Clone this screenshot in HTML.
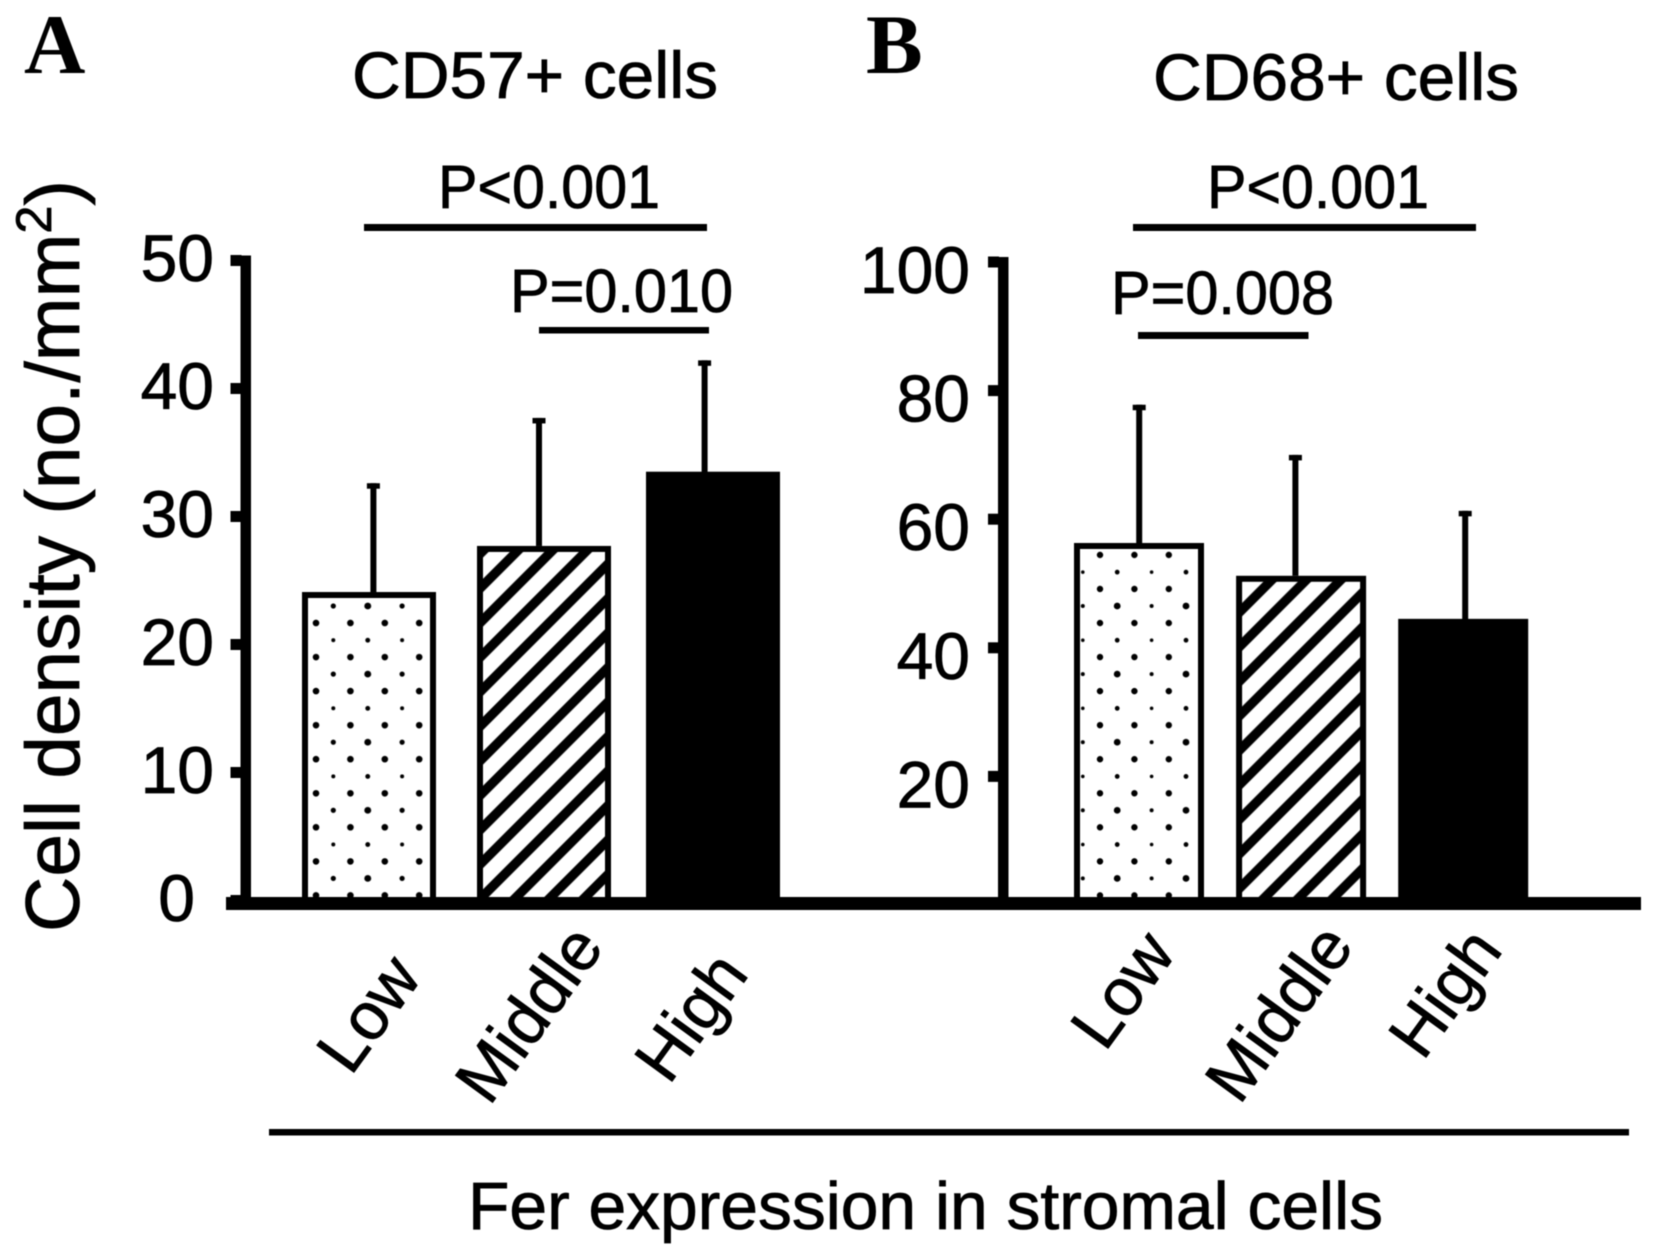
<!DOCTYPE html>
<html lang="en">
<head>
<meta charset="utf-8">
<title>Cell density by Fer expression</title>
<style>
html,body{margin:0;padding:0;background:#fff;width:1654px;height:1257px;overflow:hidden}
svg{display:block;filter:blur(0.6px)}
text{font-family:"Liberation Sans",Arial,sans-serif;fill:#000;stroke:#000;stroke-width:0.8px}
</style>
</head>
<body>
<svg id="chart" xmlns="http://www.w3.org/2000/svg" width="1654" height="1257" viewBox="0 0 1654 1257">
  <defs>
    <pattern id="dotsA" patternUnits="userSpaceOnUse" x="299" y="606" width="68.8" height="68.1">
      <circle cx="34.3" cy="0" r="2.6"/><circle cx="68.7" cy="0" r="3.4"/><circle cx="0" cy="0" r="3.4"/>
      <circle cx="17" cy="17" r="3.3"/><circle cx="51.4" cy="17" r="3.3"/>
      <circle cx="34.3" cy="34.2" r="2"/><circle cx="68.7" cy="34.2" r="2.4"/><circle cx="0" cy="34.2" r="2.4"/>
      <circle cx="17" cy="51.1" r="3.3"/><circle cx="51.4" cy="51.1" r="3.3"/>
      <circle cx="34.3" cy="68.1" r="2.6"/><circle cx="68.7" cy="68.1" r="3.4"/><circle cx="0" cy="68.1" r="3.4"/>
    </pattern>
    <pattern id="dotsB" patternUnits="userSpaceOnUse" x="1065.6" y="606" width="68.8" height="68.1">
      <circle cx="17.2" cy="0" r="2"/><circle cx="51.6" cy="0" r="3.4"/>
      <circle cx="0" cy="17" r="3.2"/><circle cx="34.4" cy="17" r="3.2"/><circle cx="68.8" cy="17" r="3.2"/>
      <circle cx="17.2" cy="34.2" r="1.8"/><circle cx="51.6" cy="34.2" r="2.4"/>
      <circle cx="0" cy="51.1" r="3.2"/><circle cx="34.4" cy="51.1" r="3.2"/><circle cx="68.8" cy="51.1" r="3.2"/>
      <circle cx="17.2" cy="68.1" r="2"/><circle cx="51.6" cy="68.1" r="3.4"/>
    </pattern>
    <pattern id="hatchA" patternUnits="userSpaceOnUse" width="40" height="24.4" patternTransform="translate(511.7 556.7) rotate(-45)">
      <rect x="0" y="0" width="40" height="4.7"/><rect x="0" y="19.7" width="40" height="4.7"/>
    </pattern>
    <pattern id="hatchB" patternUnits="userSpaceOnUse" width="40" height="24.4" patternTransform="translate(1266.7 585) rotate(-45)">
      <rect x="0" y="0" width="40" height="4.7"/><rect x="0" y="19.7" width="40" height="4.7"/>
    </pattern>
  </defs>

  <text x="24" y="73" font-size="85" font-weight="700" style="font-family:'Liberation Serif',serif;stroke-width:0">A</text>
  <text x="866" y="73" font-size="85" font-weight="700" style="font-family:'Liberation Serif',serif;stroke-width:0">B</text>

  <text x="352" y="98" font-size="66" textLength="366" lengthAdjust="spacingAndGlyphs">CD57+ cells</text>
  <text x="1153" y="100" font-size="66" textLength="366" lengthAdjust="spacingAndGlyphs">CD68+ cells</text>

  <text transform="translate(79 932) rotate(-90)" font-size="76" textLength="752" lengthAdjust="spacingAndGlyphs">Cell density (no./mm<tspan font-size="50" dy="-28">2</tspan><tspan dy="28">)</tspan></text>

  <text x="438" y="208" font-size="61" textLength="222" lengthAdjust="spacingAndGlyphs">P&lt;0.001</text>
  <rect x="364" y="224" width="343" height="7"/>
  <text x="510" y="312" font-size="61" textLength="223" lengthAdjust="spacingAndGlyphs">P=0.010</text>
  <rect x="539" y="327" width="170" height="6.5"/>
  <text x="1207" y="208" font-size="61" textLength="222" lengthAdjust="spacingAndGlyphs">P&lt;0.001</text>
  <rect x="1133" y="224" width="343" height="7"/>
  <text x="1111" y="314" font-size="61" textLength="223" lengthAdjust="spacingAndGlyphs">P=0.008</text>
  <rect x="1138" y="332" width="170.5" height="7"/>

  <rect x="269" y="1129" width="1360" height="6.5"/>
  <text x="468" y="1229" font-size="67" textLength="915" lengthAdjust="spacingAndGlyphs">Fer expression in stromal cells</text>

  <g id="marks"></g>
</svg>
<script>
// ---- chart data ----
const categories = ["Low", "Middle", "High"];
const cd57Means = [24.1, 27.7, 33.5];
const cd57ErrorTops = [32.6, 37.7, 42.2];
const cd68Means = [56.3, 51.2, 44.5];
const cd68ErrorTops = [77.8, 70.0, 61.3];
const cd57Ticks = [0, 10, 20, 30, 40, 50];
const cd68Ticks = [20, 40, 60, 80, 100];
// --------------------------------------------

const NS = "http://www.w3.org/2000/svg";
const root = document.getElementById("marks");
function make(tag, attrs, text) {
  const el = document.createElementNS(NS, tag);
  for (const k in attrs) el.setAttribute(k, attrs[k]);
  if (text !== undefined) el.textContent = text;
  root.appendChild(el);
  return el;
}

const BASE_TOP = 897;
function yA(v) { return 900.5 - 12.8 * v; }
function yB(v) { return 905 - 6.43 * v; }
function barLeftA(i) { return 302 + 172 * i + (i === 1 ? 3 : 0); }
function barLeftB(i) { return 1074 + 162.1 * i; }
function errXA(i) { return 373.4 + 165.6 * i; }
function errXB(i) { return i === 0 ? 1139.2 : i === 1 ? 1295.4 : 1465.2; }

function drawPanel(p, means, tops, ticks, y, barLeft, errX, barW, axisL, labelRight, labelDy, labelPts) {
  // y axis
  const axis = make("rect", { x: axisL, y: y(ticks[ticks.length - 1]) - 5, width: 10.5, height: BASE_TOP - y(ticks[ticks.length - 1]) + 8 });
  
  

  ticks.forEach(function (t) {
    const tick = make("rect", { x: axisL - 10, y: y(t) - 5.5, width: 11, height: 11 });
    
    
    const right = t === 0 ? labelRight - 19 : labelRight;
    const lab = make("text", { x: right, y: y(t) + labelDy, "font-size": 66, "text-anchor": "end" }, String(t));
    
    
  });

  categories.forEach(function (c, i) {
    const cx = errX(i), topY = y(tops[i]), barTop = y(means[i]);
    const stem = make("rect", { x: cx - 3, y: topY, width: 6, height: barTop - topY + 2 });
    
    
    const cap = make("rect", { x: cx - 6.5, y: topY, width: 13, height: 5.5 });
    
    

    const left = barLeft(i);
    const fill = i === 0 ? "url(#dots" + p + ")" : i === 1 ? "url(#hatch" + p + ")" : "#000";
    if (i < 2) {
      const under = make("rect", { x: left, y: barTop, width: barW, height: BASE_TOP + 3 - barTop, fill: "#fff" });
      
      
    }
    const bar = make("rect", {
      x: left + 3, y: barTop + 3, width: barW - 6, height: BASE_TOP + 3 - barTop - 3,
      fill: fill, stroke: "#000", "stroke-width": 6
    });
    
    

    const pt = labelPts[i];
    const lab = make("text", {
      "font-size": 67, "text-anchor": "middle",
      transform: "translate(" + pt[0] + " " + pt[1] + ") rotate(-54)", x: 0, y: 24
    }, c);
    
    
  });
}

drawPanel("A", cd57Means, cd57ErrorTops, cd57Ticks, yA, barLeftA, errXA, 134, 240.5, 214, 20.5,
  [[367.5, 1013], [528, 1013], [690, 1016]]);
drawPanel("B", cd68Means, cd68ErrorTops, cd68Ticks, yB, barLeftB, errXB, 130, 998, 970, 31,
  [[1121.6, 989], [1278, 1012], [1444, 992]]);

const baseline = make("rect", { x: 226, y: BASE_TOP, width: 1415, height: 13 });


</script>
</body>
</html>
